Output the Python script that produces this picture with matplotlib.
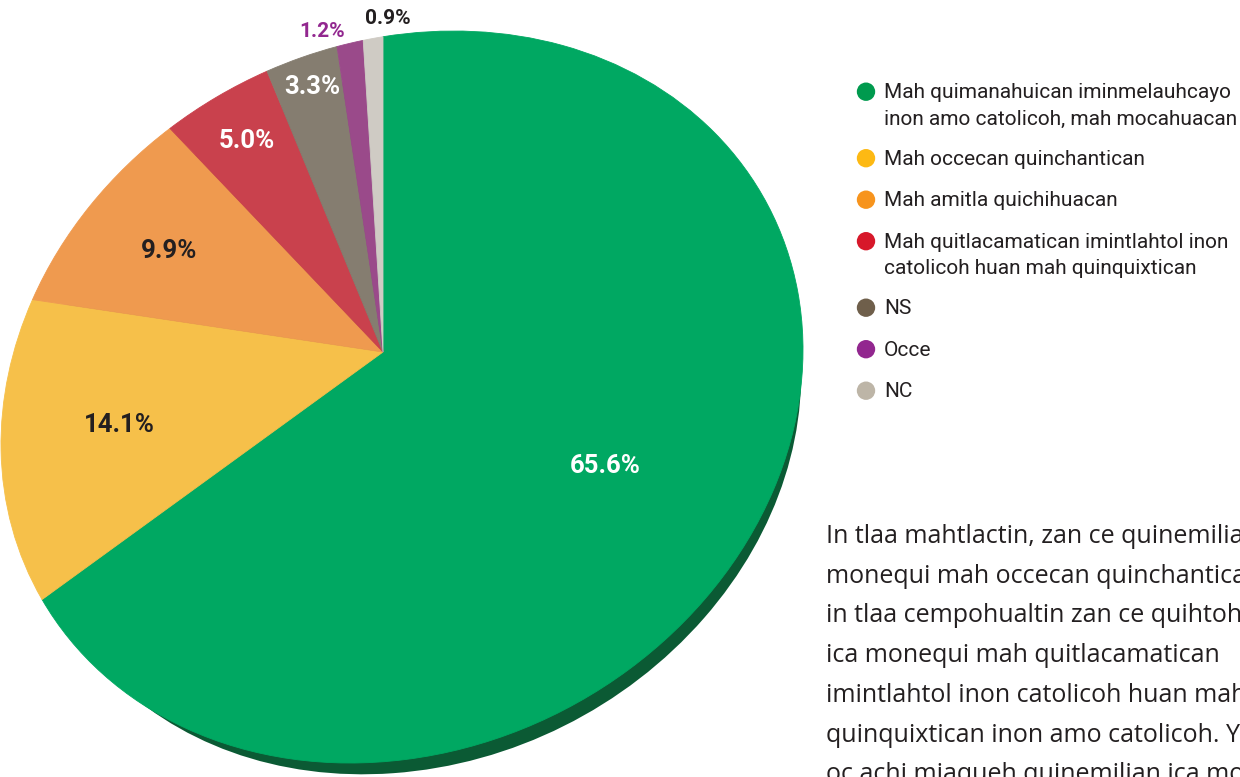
import numpy as np
import matplotlib
matplotlib.use("Agg")
import matplotlib.pyplot as plt
from matplotlib.transforms import Transform, Affine2D
from matplotlib.patches import Circle

# ---------------- data ----------------
categories = [
    "Mah quimanahuican iminmelauhcayo\ninon amo catolicoh, mah mocahuacan",
    "Mah occecan quinchantican",
    "Mah amitla quichihuacan",
    "Mah quitlacamatican imintlahtol inon\ncatolicoh huan mah quinquixtican",
    "NS",
    "Occe",
    "NC",
]
shares = [65.6, 14.1, 9.9, 5.0, 3.3, 1.2, 0.9]
pct_labels = ["65.6%", "14.1%", "9.9%", "5.0%", "3.3%", "1.2%", "0.9%"]

slice_colors = ["#00a862", "#f6c04a", "#ef9a4f", "#c9414d", "#857d70", "#9a4a8a", "#cfcbc4"]
legend_colors = ["#009a4e", "#fdb913", "#f7941d", "#d7182a", "#6f5f4b", "#92278f", "#bdb5a7"]
label_colors = ["white", "#231f20", "#231f20", "white", "white", "#92278f", "#231f20"]
label_sizes = [18.5, 18.5, 18.5, 18.5, 18.5, 15, 15]
label_radius = [0.55, 0.72, 0.69, 0.76, 0.85, 1.06, 1.05]
label_shift = [(18, 41), (13, 2), (-5, 3), (-6, -11), (0, -10), (-26, 4), (15, -6)]

paragraph = [
    "In tlaa mahtlactin, zan ce quinemilia",
    "monequi mah occecan quinchantican",
    "in tlaa cempohualtin zan ce quihtoh",
    "ica monequi mah quitlacamatican",
    "imintlahtol inon catolicoh huan mah",
    "quinquixtican inon amo catolicoh. Yece",
    "oc achi miaqueh quinemilian ica monequi",
]

# ---------------- perspective disc geometry (pixel space) ----------------
cx, cy = 402.0, 397.0
sx, sy, sxy = 401.0, 366.0, 19000.0
apex = np.array([383.0, 352.0])

Sig = np.array([[sx ** 2, sxy], [sxy, sy ** 2]])
L = np.linalg.cholesky(Sig)
M = np.array([[L[0, 0], L[0, 1], cx], [-L[1, 0], -L[1, 1], cy], [0, 0, 1.0]])
dvec = np.array([apex[0] - cx, -(apex[1] - cy)])
q = np.linalg.solve(L, dvec)
t = np.hypot(*q)
nrm = q / t
g = 1 / np.sqrt(1 - t * t)
B = np.eye(3)
B[:2, :2] += (g - 1) * np.outer(nrm, nrm)
B[:2, 2] = g * t * nrm
B[2, :2] = g * t * nrm
B[2, 2] = g
H = M @ B


class ProjT(Transform):
    input_dims = 2
    output_dims = 2
    is_separable = False
    has_inverse = False

    def __init__(self, mat):
        super().__init__()
        self.mat = mat

    def transform_non_affine(self, values):
        v = np.asarray(values, float).reshape(-1, 2)
        h = np.column_stack([v, np.ones(len(v))]) @ self.mat.T
        return h[:, :2] / h[:, 2:3]


def proj(pt):
    h = H @ np.array([pt[0], pt[1], 1.0])
    return h[:2] / h[2]


# start angle: the first boundary runs straight up from the apex
Si = np.linalg.inv(Sig)
X = apex[0] - cx
p_, r_, s_ = Si[0, 0], Si[0, 1], Si[1, 1]
Y = (-r_ * X + np.sqrt((r_ * X) ** 2 - s_ * (p_ * X * X - 1))) / s_
rim = np.array([apex[0], cy - Y, 1.0])
u = np.linalg.solve(H, rim)
u = u / u[2]
start = np.degrees(np.arctan2(u[1], u[0]))

# ---------------- figure ----------------
fig = plt.figure(figsize=(12.4, 7.77), dpi=100)
ax = fig.add_axes([0, 0, 1, 1])

wedges, _ = ax.pie(shares, startangle=start, counterclock=False,
                   colors=slice_colors,
                   wedgeprops=dict(linewidth=0.6, antialiased=True))
PT = ProjT(H)
for w, c in zip(wedges, slice_colors):
    w.set_edgecolor(c)
    w.set_transform(PT + ax.transData)
    w.set_zorder(3)

# extruded side of the disc
k, dx, dy = 0.968, 11.0, 23.0
side_tr = Affine2D().translate(-cx, -cy).scale(k).translate(cx + dx, cy + dy)
side = Circle((0, 0), 1.0, facecolor="#0b5a34", edgecolor="none", zorder=2)
side.set_transform(PT + side_tr + ax.transData)
ax.add_patch(side)

ax.set_aspect("auto")
ax.set_xlim(0, 1240)
ax.set_ylim(777, 0)
ax.axis("off")

# percentage labels
for w, txt, col, fs, rr, sh in zip(wedges, pct_labels, label_colors, label_sizes,
                                   label_radius, label_shift):
    mid = np.radians((w.theta1 + w.theta2) / 2)
    px, py = proj((rr * np.cos(mid), rr * np.sin(mid)))
    ax.text(px + sh[0], py + sh[1], txt, color=col, fontsize=fs, fontweight="bold",
            family="Roboto", ha="center", va="center", zorder=5)

# legend
ly = 91.7
for lab, col in zip(categories, legend_colors):
    ax.scatter([866], [ly], s=175, color=col, edgecolor="none", zorder=5)
    for j, line in enumerate(lab.split("\n")):
        ax.text(884, ly + 6.6 + 26.7 * j, line, fontsize=15, family="Roboto",
                color="#231f20", ha="left", va="baseline")
    ly += 41.5 + 25 * lab.count("\n")

# paragraph
for i, line in enumerate(paragraph):
    ax.text(826, 543 + 39.7 * i, line, fontsize=18, family="Open Sans",
            color="#231f20", ha="left", va="baseline")

fig.savefig("out.png", dpi=100)
